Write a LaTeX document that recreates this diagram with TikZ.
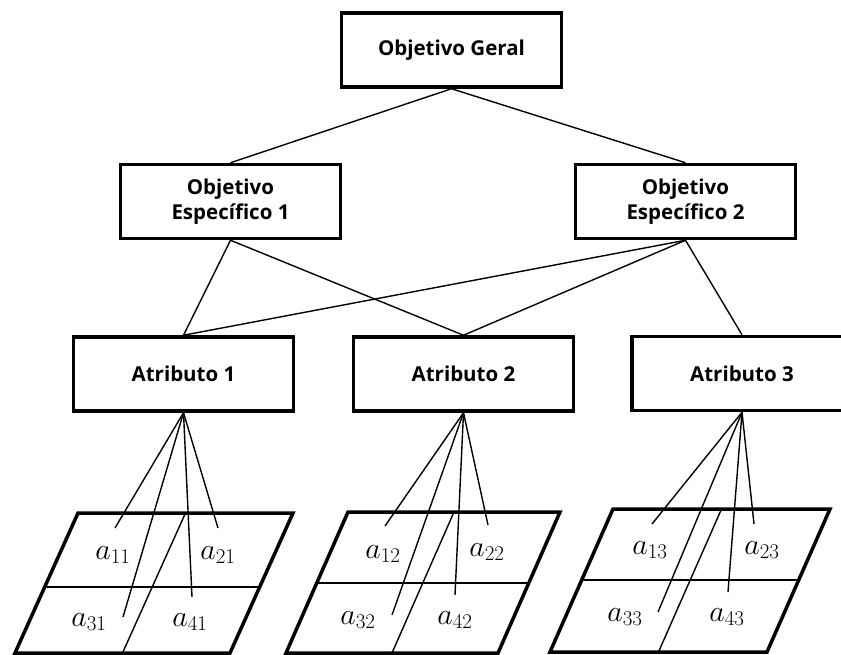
\RequirePackage{fix-cm}
\documentclass[tikz,border=0pt]{standalone}
\usepackage{fontspec}
\newfontfamily\boxfont{Open Sans}
\usetikzlibrary{calc}

\begin{document}
\begin{tikzpicture}[x=1pt,y=-1pt,
  box/.style={draw,line width=3.5pt,minimum width=220pt,minimum height=74pt,
    inner sep=0pt,align=center,
    font=\boxfont\bfseries\fontsize{20.5}{25}\selectfont},
  link/.style={line width=1.4pt},
  frame/.style={line width=3.5pt,line join=miter},
  rowline/.style={line width=2pt},
  colline/.style={line width=1.4pt},
  entry/.style={inner sep=0pt,font=\fontsize{30}{30}\selectfont}]

\clip (0,0) rectangle (841,655);
\fill[white] (0,0) rectangle (841,655);

% hierarchy boxes
\node[box] (geral) at (451.5,50) {Objetivo Geral};
\node[box] (esp1) at (230.5,201.5) {Objetivo\\Específico 1};
\node[box] (esp2) at (685.5,201.5) {Objetivo\\Específico 2};
\node[box] (at1) at (183.5,374) {Atributo 1};
\node[box] (at2) at (463.5,374) {Atributo 2};
\node[box] (at3) at (742,373.5) {Atributo 3};

\draw[link] (geral.south) -- (esp1.north);
\draw[link] (geral.south) -- (esp2.north);
\draw[link] (esp1.south) -- (at1.north);
\draw[link] (esp1.south) -- (at2.north);
\draw[link] (esp2.south) -- (at1.north);
\draw[link] (esp2.south) -- (at2.north);
\draw[link] (esp2.south) -- (at3.north);

% slanted tables of alternatives
\foreach \n/\tlx/\trx/\ty/\blx/\brx/\by/\t in {
    1/78/293/513/15/230/653/0.53,
    2/348/560/512/286/498/653/0.504,
    3/613/830/509/550/767/652/0.497}{
  \coordinate (tl\n) at (\tlx,\ty);
  \coordinate (tr\n) at (\trx,\ty);
  \coordinate (bl\n) at (\blx,\by);
  \coordinate (br\n) at (\brx,\by);
  \draw[rowline] ($(tl\n)!\t!(bl\n)$) -- ($(tr\n)!\t!(br\n)$);
  \draw[colline] ($(tl\n)!0.5!(tr\n)$) -- ($(bl\n)!0.5!(br\n)$);
  \draw[frame] (tl\n) -- (tr\n) -- (br\n) -- (bl\n) -- cycle;
}

% entries
\node[entry] (e11) at (113,555) {$a_{11}$};
\node[entry] (e21) at (218,555) {$a_{21}$};
\node[entry] (e31) at (89,622) {$a_{31}$};
\node[entry] (e41) at (190,622) {$a_{41}$};
\node[entry] (e12) at (383,554) {$a_{12}$};
\node[entry] (e22) at (487,552) {$a_{22}$};
\node[entry] (e32) at (358,620) {$a_{32}$};
\node[entry] (e42) at (455,620) {$a_{42}$};
\node[entry] (e13) at (650,550) {$a_{13}$};
\node[entry] (e23) at (762,550) {$a_{23}$};
\node[entry] (e33) at (625,617) {$a_{33}$};
\node[entry] (e43) at (727,617) {$a_{43}$};

% links from attributes to entries
\coordinate (p11) at (115,528);
\coordinate (p21) at (218,528);
\coordinate (p31) at (123,617);
\coordinate (p41) at (192,597);
\coordinate (p12) at (385,526);
\coordinate (p22) at (488,525);
\coordinate (p32) at (392,615);
\coordinate (p42) at (455,595);
\coordinate (p13) at (652,524);
\coordinate (p23) at (754,524);
\coordinate (p33) at (658,612);
\coordinate (p43) at (728,592);
\foreach \k in {1,2,3}{
  \foreach \r in {1,2,3,4}{
    \draw[link] (at\k.south) -- (p\r\k);
  }
}
\end{tikzpicture}
\end{document}
